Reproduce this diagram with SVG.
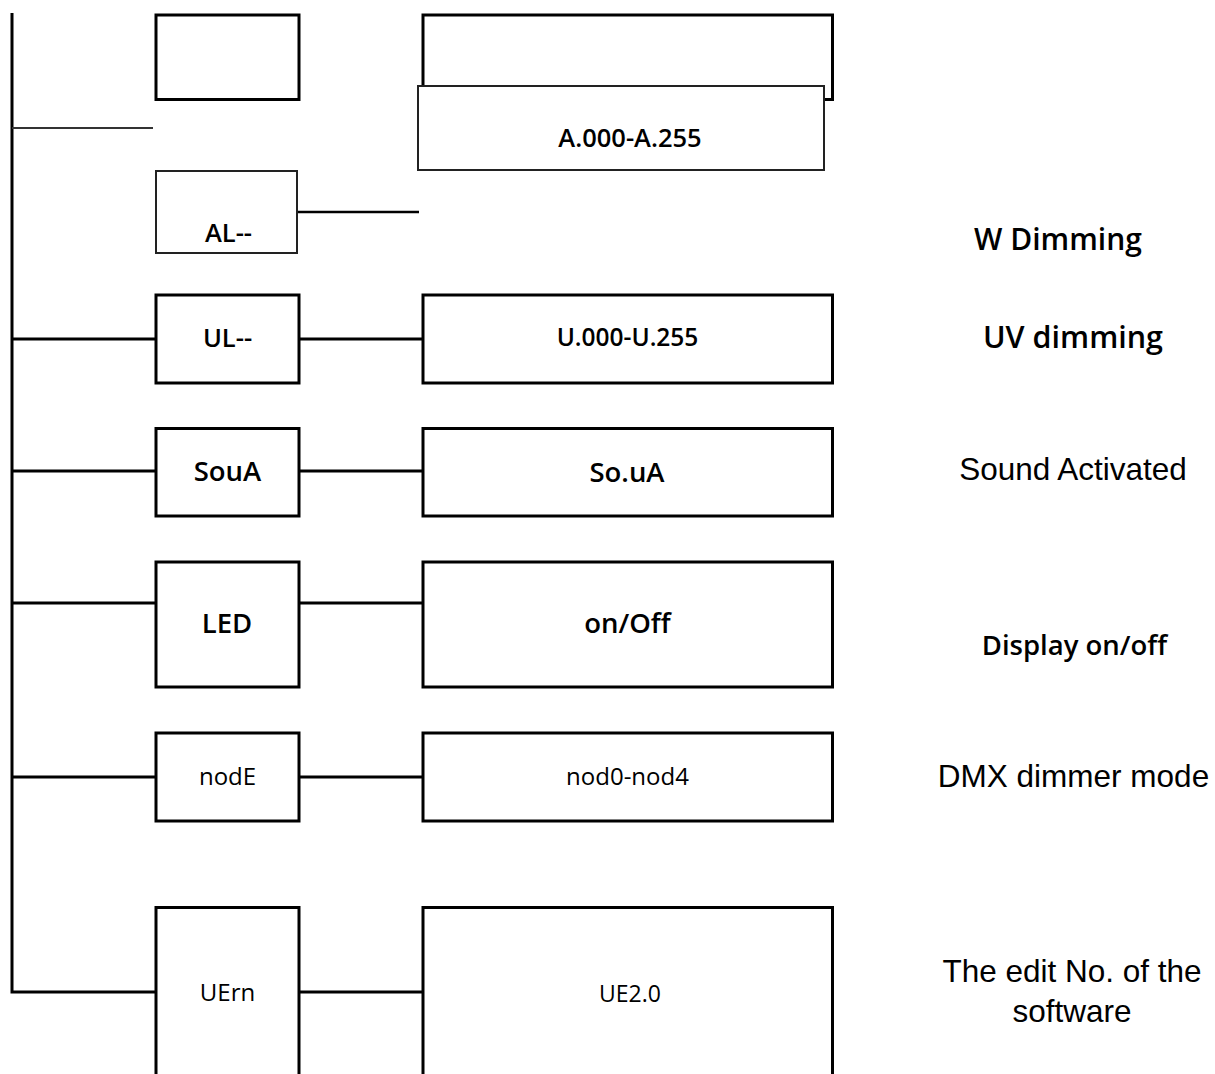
<svg xmlns="http://www.w3.org/2000/svg" width="1215" height="1074" viewBox="0 0 1215 1074">
<style>
.box{fill:#fff;stroke:#000;stroke-width:3}
.thin{fill:#fff;stroke:#222;stroke-width:2}
.ln{stroke:#000;stroke-width:3;fill:none}
.lt{stroke:#333;stroke-width:2;fill:none}
.t{font-family:"Open Sans","Noto Sans",sans-serif;fill:#000;text-anchor:middle}
.sb{font-weight:600}
.rg{font-weight:400}
.a{font-family:"Liberation Sans",Arial,sans-serif;fill:#000;text-anchor:middle;font-size:31.5px}
</style>
<rect width="1215" height="1074" fill="#fff"/>
<g id="connectors">
<path class="ln" d="M12,13 V992 H156"/>
<line class="lt" x1="12" y1="128" x2="153" y2="128"/>
<line class="ln" x1="297" y1="212" x2="419" y2="212" style="stroke-width:2.5"/>
<line class="ln" x1="12" y1="339" x2="156" y2="339"/>
<line class="ln" x1="299" y1="339" x2="423" y2="339"/>
<line class="ln" x1="12" y1="471" x2="156" y2="471"/>
<line class="ln" x1="299" y1="471" x2="423" y2="471"/>
<line class="ln" x1="12" y1="603" x2="156" y2="603"/>
<line class="ln" x1="299" y1="603" x2="423" y2="603"/>
<line class="ln" x1="12" y1="777" x2="156" y2="777"/>
<line class="ln" x1="299" y1="777" x2="423" y2="777"/>
<line class="ln" x1="299" y1="992" x2="423" y2="992"/>
</g>
<g id="node-top-left"><rect class="box" x="156" y="15" width="143" height="84.5"/></g>
<g id="node-top-right"><rect class="box" x="423" y="15" width="409.5" height="84.5"/></g>
<g id="node-a-range"><rect class="thin" x="418" y="86" width="406" height="84"/>
<text class="t sb" x="630" y="147" font-size="25.5">A.000-A.255</text></g>
<g id="node-al"><rect class="thin" x="156" y="171" width="141" height="82"/>
<text class="t sb" x="228.5" y="242" font-size="25.5">AL--</text></g>
<g id="label-w"><text class="t sb" x="1058" y="250" font-size="30">W Dimming</text></g>
<g id="node-ul"><rect class="box" x="156" y="295" width="143" height="88"/>
<text class="t sb" x="227.5" y="347" font-size="25.5">UL--</text></g>
<g id="node-u-range"><rect class="box" x="423" y="295" width="409.5" height="88"/>
<text class="t sb" x="627.5" y="346" font-size="24.5">U.000-U.255</text></g>
<g id="label-uv"><text class="t sb" x="1073" y="348" font-size="30.5">UV dimming</text></g>
<g id="node-soua"><rect class="box" x="156" y="428.5" width="143" height="87.5"/>
<text class="t sb" x="227.5" y="481" font-size="27.5">SouA</text></g>
<g id="node-so-ua"><rect class="box" x="423" y="428.5" width="409.5" height="87.5"/>
<text class="t sb" x="627" y="482" font-size="27.5">So.uA</text></g>
<g id="label-sound"><text class="a" x="1073" y="480">Sound Activated</text></g>
<g id="node-led"><rect class="box" x="156" y="562" width="143" height="125"/>
<text class="t sb" x="227" y="633" font-size="27.5">LED</text></g>
<g id="node-onoff"><rect class="box" x="423" y="562" width="409.5" height="125"/>
<text class="t sb" x="627.5" y="633" font-size="27.5">on/Off</text></g>
<g id="label-display"><text class="t sb" x="1074.5" y="655" font-size="27.5">Display on/off</text></g>
<g id="node-node"><rect class="box" x="156" y="733" width="143" height="88"/>
<text class="t rg" x="227.5" y="785" font-size="24">nodE</text></g>
<g id="node-nod-range"><rect class="box" x="423" y="733" width="409.5" height="88"/>
<text class="t rg" x="627.5" y="785" font-size="24">nod0-nod4</text></g>
<g id="label-dmx"><text class="a" x="1073.5" y="787">DMX dimmer mode</text></g>
<g id="node-uern"><path class="box" d="M156,1080 V907.5 H299 V1080"/>
<text class="t rg" x="227.5" y="1001" font-size="24">UErn</text></g>
<g id="node-ue20"><path class="box" d="M423,1080 V907.5 H832.5 V1080"/>
<text class="t rg" x="630" y="1002" font-size="23">UE2.0</text></g>
<g id="label-edit"><text class="a" x="1072" y="982">The edit No. of the</text>
<text class="a" x="1072" y="1022">software</text></g>
</svg>
